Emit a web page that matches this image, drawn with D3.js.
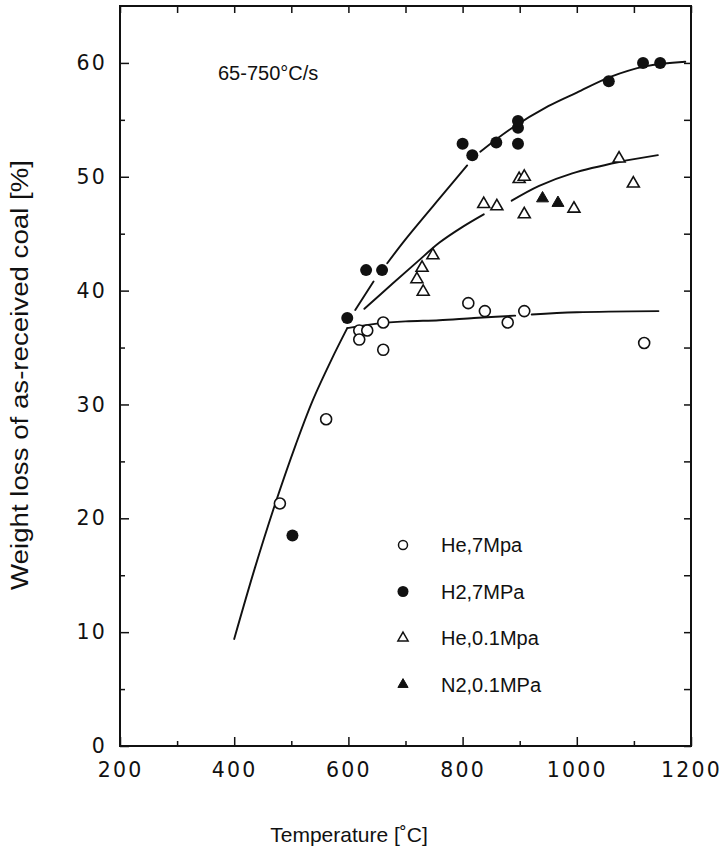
<!DOCTYPE html>
<html lang="en">
<head>
  <meta charset="UTF-8">
  <script src="https://cdn.jsdelivr.net/npm/d3@7"></script>
  <title>Weight loss vs temperature</title>
  <style>
    body { margin: 0; background: #fff; }
    text { fill: #111; }
  </style>
</head>
<body>
  <script>
    // measured points  [temperature C, weight loss %]
    const he7 = [[480, 21.3], [561, 28.7], [619, 36.5], [633, 36.5], [619, 35.7], [661, 37.2],
                 [661, 34.8], [810, 38.9], [839, 38.2], [879, 37.2], [908, 38.2], [1118, 35.4]]
    const h27 = [[502, 18.5], [598, 37.6], [631, 41.8], [659, 41.8], [800, 52.9], [817, 51.9],
                 [859, 53.0], [897, 52.9], [897, 54.3], [897, 54.9], [1056, 58.4], [1116, 60.0], [1146, 60.0]]
    const he01 = [[720, 41.0], [729, 42.0], [731, 39.9], [748, 43.1], [837, 47.6], [860, 47.4],
                  [899, 49.8], [908, 50.0], [908, 46.7], [995, 47.2], [1074, 51.6], [1099, 49.4]]
    const n201 = [[940, 48.1], [967, 47.7]]

    // hand drawn fit curves (null = break in the line)
    const curveRise = [[400, 9.4], [436, 15.6], [472, 21.3], [508, 26.5], [537, 30.3], [570, 33.9], [598, 36.7]]
    const curveLow = [[598, 36.7], [650, 37.1], [700, 37.3], [759, 37.4], [820, 37.6], [892, 37.8], null,
                      [921, 37.9], [1000, 38.1], [1143, 38.2]]
    const curveH2 = [[612, 38.3], [644, 40.8], null, [668, 42.4], [700, 44.5], [768, 48.6], [808, 51.0], null,
                     [831, 52.2], [884, 54.2], [950, 56.2], [1000, 57.4], [1060, 58.8], [1120, 59.7], [1190, 60.1]]
    const curveHe01 = [[628, 38.4], [677, 40.6], [720, 42.5], [759, 44.2], [800, 45.6], [837, 46.7], null,
                       [886, 47.9], [934, 49.2], [992, 50.3], [1074, 51.3], [1142, 51.9]]

    const xTicks = [200, 400, 600, 800, 1000, 1200]
    const xMinor = [300, 500, 700, 900, 1100]
    const yTicks = [0, 10, 20, 30, 40, 50, 60]
    const yMinor = [5, 15, 25, 35, 45, 55]
    const legendItems = ['He,7Mpa', 'H2,7MPa', 'He,0.1Mpa', 'N2,0.1MPa']

    const width = 724, height = 861
    const margin = ({top: 6, right: 33, bottom: 115, left: 120})

    const svg = d3.select('body').append('svg')
        .attr('width', width)
        .attr('height', height)

    const x = d3.scaleLinear()
        .domain([200, 1200])
        .range([margin.left, width - margin.right])

    const y = d3.scaleLinear()
        .domain([0, 65])
        .range([height - margin.bottom, margin.top])

    const fmt = d3.format('d')

    const tickFont = g => g
        .attr('font-family', '"DejaVu Sans", sans-serif')
        .attr('font-size', 20.5)
        .attr('letter-spacing', 2.2)
        .call(g => g.selectAll('text').attr('fill', '#111'))

    // bottom axis
    svg.append('g')
        .attr('transform', `translate(0,${y(0)})`)
        .call(d3.axisBottom(x).tickValues(xTicks).tickFormat(fmt).tickSizeInner(-9).tickSizeOuter(0).tickPadding(16))
        .call(tickFont)
        .call(g => g.select('.domain').remove())
    svg.append('g')
        .attr('transform', `translate(0,${y(0)})`)
        .call(d3.axisBottom(x).tickValues(xMinor).tickSizeInner(-5).tickSizeOuter(0).tickFormat(''))
        .call(g => g.select('.domain').remove())

    // top axis
    svg.append('g')
        .attr('transform', `translate(0,${margin.top})`)
        .call(d3.axisTop(x).tickValues(xTicks.concat(xMinor)).tickSizeInner(-7).tickSizeOuter(0).tickFormat(''))
        .call(g => g.select('.domain').remove())

    // left axis
    svg.append('g')
        .attr('transform', `translate(${margin.left},0)`)
        .call(d3.axisLeft(y).tickValues(yTicks).tickFormat(fmt).tickSizeInner(-9).tickSizeOuter(0).tickPadding(13))
        .call(tickFont)
        .call(g => g.select('.domain').remove())
    svg.append('g')
        .attr('transform', `translate(${margin.left},0)`)
        .call(d3.axisLeft(y).tickValues(yMinor).tickSizeInner(-5).tickSizeOuter(0).tickFormat(''))
        .call(g => g.select('.domain').remove())

    // right axis
    svg.append('g')
        .attr('transform', `translate(${width - margin.right},0)`)
        .call(d3.axisRight(y).tickValues(yTicks.concat(yMinor)).tickSizeInner(-7).tickSizeOuter(0).tickFormat(''))
        .call(g => g.select('.domain').remove())

    svg.selectAll('.tick line').attr('stroke', '#111').attr('stroke-width', 1.5)

    // frame
    svg.append('rect')
        .attr('x', x(200))
        .attr('y', y(65))
        .attr('width', x(1200) - x(200))
        .attr('height', y(0) - y(65))
        .attr('fill', 'none')
        .attr('stroke', '#111')
        .attr('stroke-width', 2)

    // fit curves
    const line = d3.line()
        .defined(d => d !== null)
        .x(d => x(d[0]))
        .y(d => y(d[1]))
        .curve(d3.curveCatmullRom)

    svg.selectAll('path.fit')
      .data([curveRise, curveLow, curveH2, curveHe01])
      .join('path')
        .attr('class', 'fit')
        .attr('fill', 'none')
        .attr('stroke', '#111')
        .attr('stroke-width', 1.9)
        .attr('stroke-linecap', 'round')
        .attr('d', line)

    // markers
    const tri = d3.symbol().type(d3.symbolTriangle).size(62)

    svg.append('g').selectAll('circle')
      .data(he7)
      .join('circle')
        .attr('cx', d => x(d[0]))
        .attr('cy', d => y(d[1]))
        .attr('r', 5.5)
        .attr('fill', '#fff')
        .attr('stroke', '#111')
        .attr('stroke-width', 1.6)

    svg.append('g').selectAll('circle')
      .data(h27)
      .join('circle')
        .attr('cx', d => x(d[0]))
        .attr('cy', d => y(d[1]))
        .attr('r', 6)
        .attr('fill', '#111')

    svg.append('g').selectAll('path')
      .data(he01)
      .join('path')
        .attr('transform', d => `translate(${x(d[0])},${y(d[1])})`)
        .attr('d', tri)
        .attr('fill', '#fff')
        .attr('stroke', '#111')
        .attr('stroke-width', 1.6)

    svg.append('g').selectAll('path')
      .data(n201)
      .join('path')
        .attr('transform', d => `translate(${x(d[0])},${y(d[1])})`)
        .attr('d', tri)
        .attr('fill', '#111')
        .attr('stroke', '#111')
        .attr('stroke-width', 1)

    // heating rate note
    svg.append('text')
        .attr('x', 218)
        .attr('y', 80)
        .attr('font-family', '"Liberation Sans", Arial, sans-serif')
        .attr('font-size', 20)
        .text('65-750°C/s')

    // legend
    const legend = svg.append('g')
        .attr('font-family', '"Liberation Sans", Arial, sans-serif')
        .attr('font-size', 20)
    const rows = legend.selectAll('g')
      .data(legendItems)
      .join('g')
        .attr('transform', (d, i) => `translate(403,${545 + i * 46.5})`)
    rows.append('text')
        .attr('x', 38)
        .attr('dy', '0.35em')
        .text(d => d)
    rows.filter((d, i) => i === 0).append('circle')
        .attr('r', 4.5).attr('fill', '#fff').attr('stroke', '#111').attr('stroke-width', 1.5)
    rows.filter((d, i) => i === 1).append('circle')
        .attr('r', 5.5).attr('fill', '#111')
    rows.filter((d, i) => i === 2).append('path')
        .attr('d', d3.symbol().type(d3.symbolTriangle).size(45))
        .attr('fill', '#fff').attr('stroke', '#111').attr('stroke-width', 1.5)
    rows.filter((d, i) => i === 3).append('path')
        .attr('d', d3.symbol().type(d3.symbolTriangle).size(45))
        .attr('fill', '#111').attr('stroke', '#111')

    // axis titles
    svg.append('text')
        .attr('x', 349)
        .attr('y', 842)
        .attr('text-anchor', 'middle')
        .attr('font-family', '"Liberation Sans", Arial, sans-serif')
        .attr('font-size', 21)
        .text('Temperature [˚C]')

    svg.append('text')
        .attr('transform', 'translate(28,375) rotate(-90)')
        .attr('text-anchor', 'middle')
        .attr('font-family', '"Liberation Sans Narrow", "Liberation Sans", Arial, sans-serif')
        .attr('font-size', 23)
        .attr('textLength', 430)
        .attr('lengthAdjust', 'spacingAndGlyphs')
        .text('Weight loss of as-received coal [%]')
  </script>
</body>
</html>
